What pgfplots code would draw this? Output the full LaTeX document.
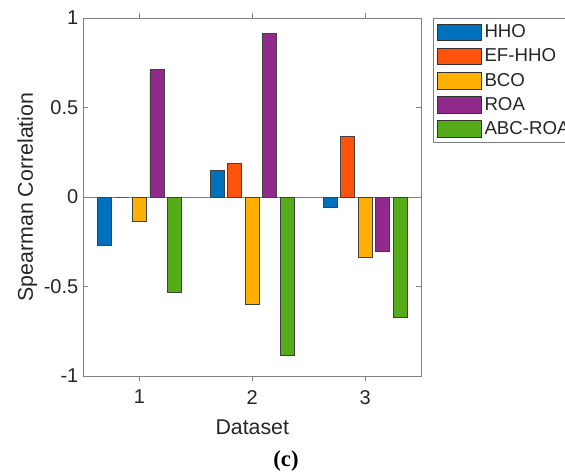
\documentclass[border=0pt]{standalone}
\usepackage{pgfplots}
\pgfplotsset{compat=1.18}
\usepackage{fontspec}
\setmainfont{Liberation Sans}
\newfontfamily\serifc{Liberation Serif}
\definecolor{chho}{HTML}{0072BD}
\definecolor{cef}{HTML}{FF530D}
\definecolor{cbco}{HTML}{FFB000}
\definecolor{croa}{HTML}{912A8D}
\definecolor{cabc}{HTML}{56AB18}
\definecolor{txt}{HTML}{262626}
\definecolor{axc}{HTML}{808080}
\begin{document}
\begin{tikzpicture}
\useasboundingbox (-62.25pt,-72pt) rectangle (361.5pt,282pt);
\begin{axis}[
  scale only axis,
  width=253.9pt, height=268.5pt,
  xmin=0.5, xmax=3.5, ymin=-1, ymax=1,
  xtick={1,2,3}, ytick={-1,-0.5,0,0.5,1},
  yticklabels={-1,-0.5,0,0.5,1},
  /pgf/number format/assume math mode=true,
  tick align=inside,
  major tick length=4pt,
  axis line style={axc, line width=0.6pt},
  every tick/.style={axc, line width=0.6pt},
  tick label style={text=txt, font=\fontsize{15}{17}\selectfont},
  xticklabel style={yshift=-3pt},
  label style={text=txt, font=\fontsize{16}{19}\selectfont},
  xlabel={Dataset},
  ylabel={Spearman Correlation},
  xlabel style={yshift=-4.5pt},
  ylabel style={yshift=-2pt},
  ybar, bar width=0.124,
  extra y ticks={0}, extra y tick labels={},
  extra y tick style={grid=major, major grid style={axc, line width=0.6pt}, tick style={draw=none}},
  legend style={at={(1.034,1)}, anchor=north west, draw=axc, line width=0.6pt,
    font=\fontsize{14}{16}\selectfont, text=txt, row sep=3.2pt, inner sep=3pt,
    nodes={inner sep=1.8pt}},
  legend cell align=left,
  legend image code/.code={\draw[#1, draw=black!80, line width=0.5pt] (0pt,-6.3pt) rectangle (33pt,6.3pt);},
]
\addplot[fill=chho, draw=black!75, line width=0.5pt, bar shift=-0.31] coordinates {(1,-0.27) (2,0.149) (3,-0.06)};
\addplot[fill=cef, draw=black!75, line width=0.5pt, bar shift=-0.155] coordinates {(1,0) (2,0.188) (3,0.339)};
\addplot[fill=cbco, draw=black!75, line width=0.5pt, bar shift=0] coordinates {(1,-0.134) (2,-0.60) (3,-0.337)};
\addplot[fill=croa, draw=black!75, line width=0.5pt, bar shift=0.155] coordinates {(1,0.713) (2,0.914) (3,-0.303)};
\addplot[fill=cabc, draw=black!75, line width=0.5pt, bar shift=0.31] coordinates {(1,-0.532) (2,-0.883) (3,-0.672)};
\legend{HHO,EF-HHO,BCO,ROA,ABC-ROA}
\end{axis}
\node[font=\serifc\bfseries\fontsize{17}{20}\selectfont, text=black] at (152.25pt,-63.5pt) {(c)};
\end{tikzpicture}
\end{document}
